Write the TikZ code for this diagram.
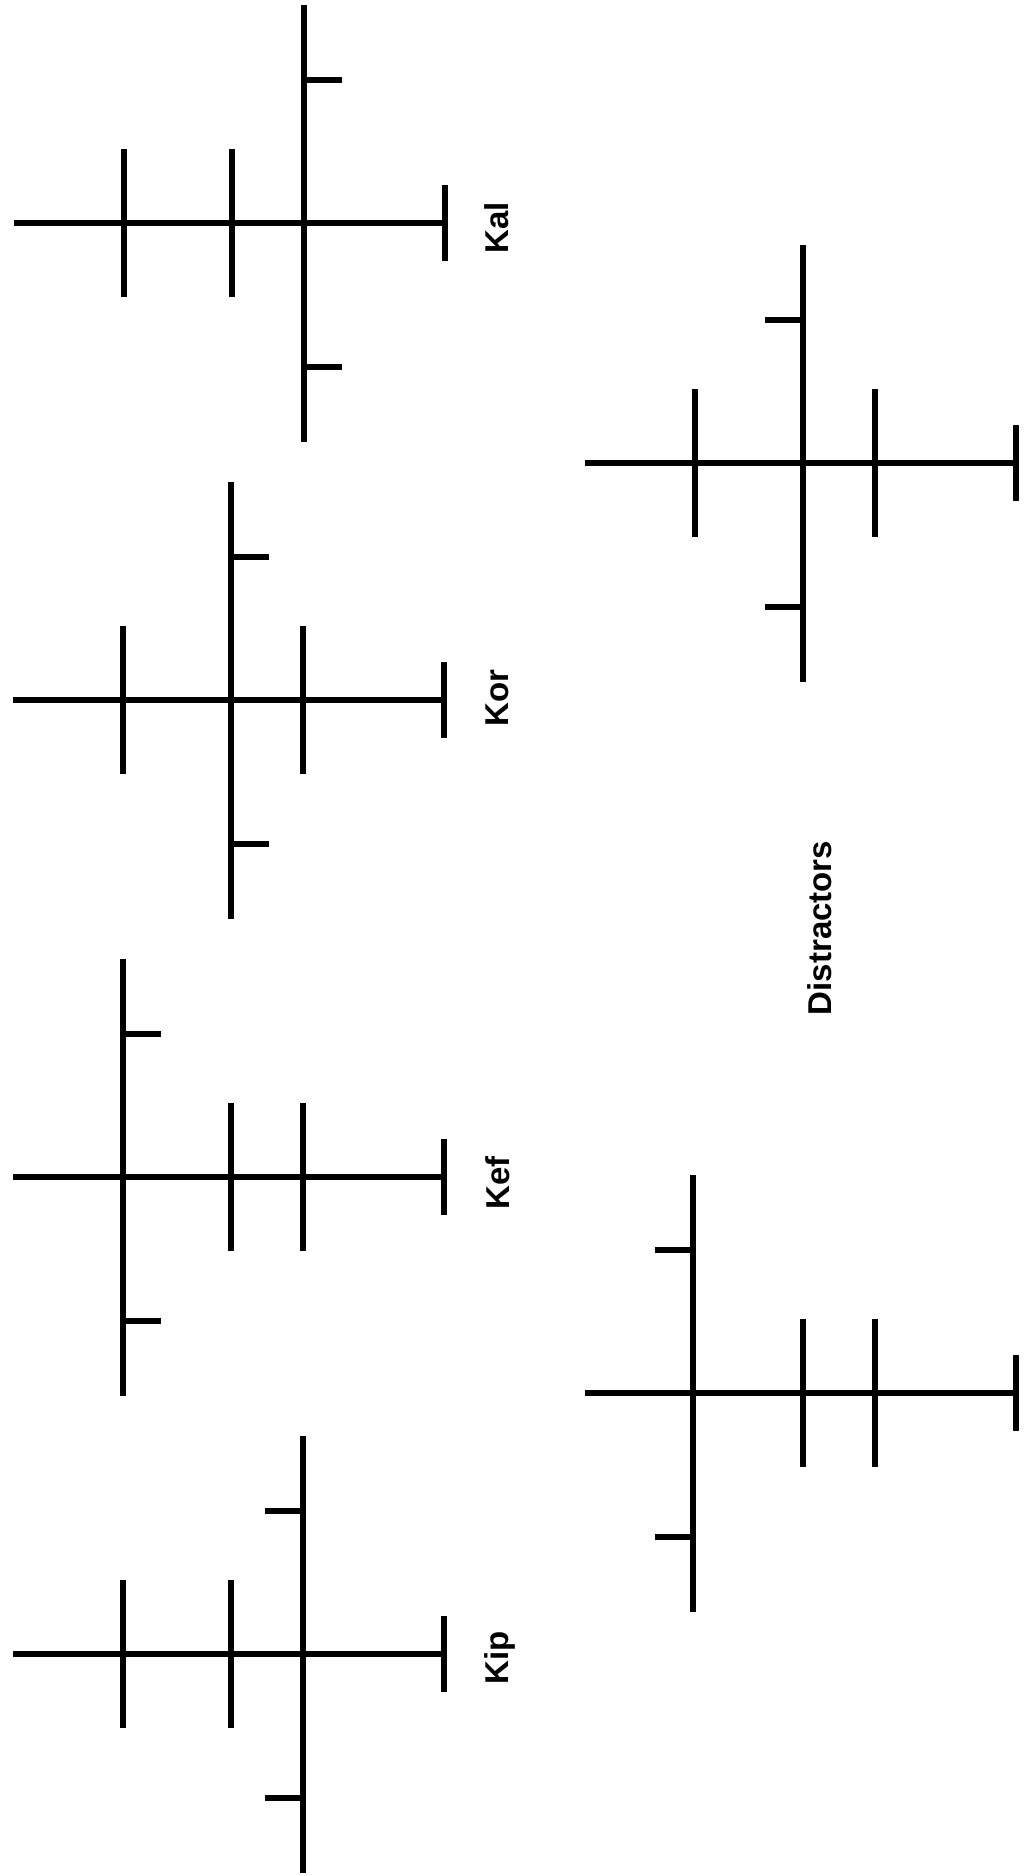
\documentclass[tikz,border=0pt]{standalone}
\usepackage{fontspec}
\setmainfont{Liberation Sans}
\usepackage{tikz}
\tikzset{
  stroke/.style   = {line width=6pt},
  namelabel/.style = {rotate=90, anchor=base, inner sep=0pt,
                      font=\bfseries\fontsize{33}{40}\selectfont},
}

\begin{document}
\begin{tikzpicture}[x=1pt, y=-1pt]
  \useasboundingbox (0,0) rectangle (1034,1876);
  % figures: left end / axis height / crossbar slots / stem slot / tick side
  \foreach \fx/\fy/\ca/\cb/\st/\tk in {14/223/110/218/290/1, 13/700/110/290/218/1,
      13/1177/218/290/110/1, 13/1654/110/218/290/-1,
      585/463/110/290/218/-1, 585/1393/218/290/108/-1} {
    \begin{scope}[shift={(\fx,\fy)}]
      \draw[stroke] (0,0) -- (431,0);
      \draw[stroke] (431,-38) -- (431,38);
      \foreach \x in {\ca,\cb} \draw[stroke] (\x,-74) -- (\x,74);
      \draw[stroke] (\st,-218) -- (\st,219);
      \foreach \y in {-143,144} \draw[stroke] (\st,\y) -- ++(38*\tk,0);
    \end{scope}
  }
  \node[namelabel] (kal) at (508,228)  {Kal};
  \node[namelabel] (kor) at (508,698)  {Kor};
  \node[namelabel] (kef) at (509,1183) {Kef};
  \node[namelabel] (kip) at (508,1658) {Kip};
  \node[namelabel] (distr) at (831,928) {Distractors};
\end{tikzpicture}
\end{document}
